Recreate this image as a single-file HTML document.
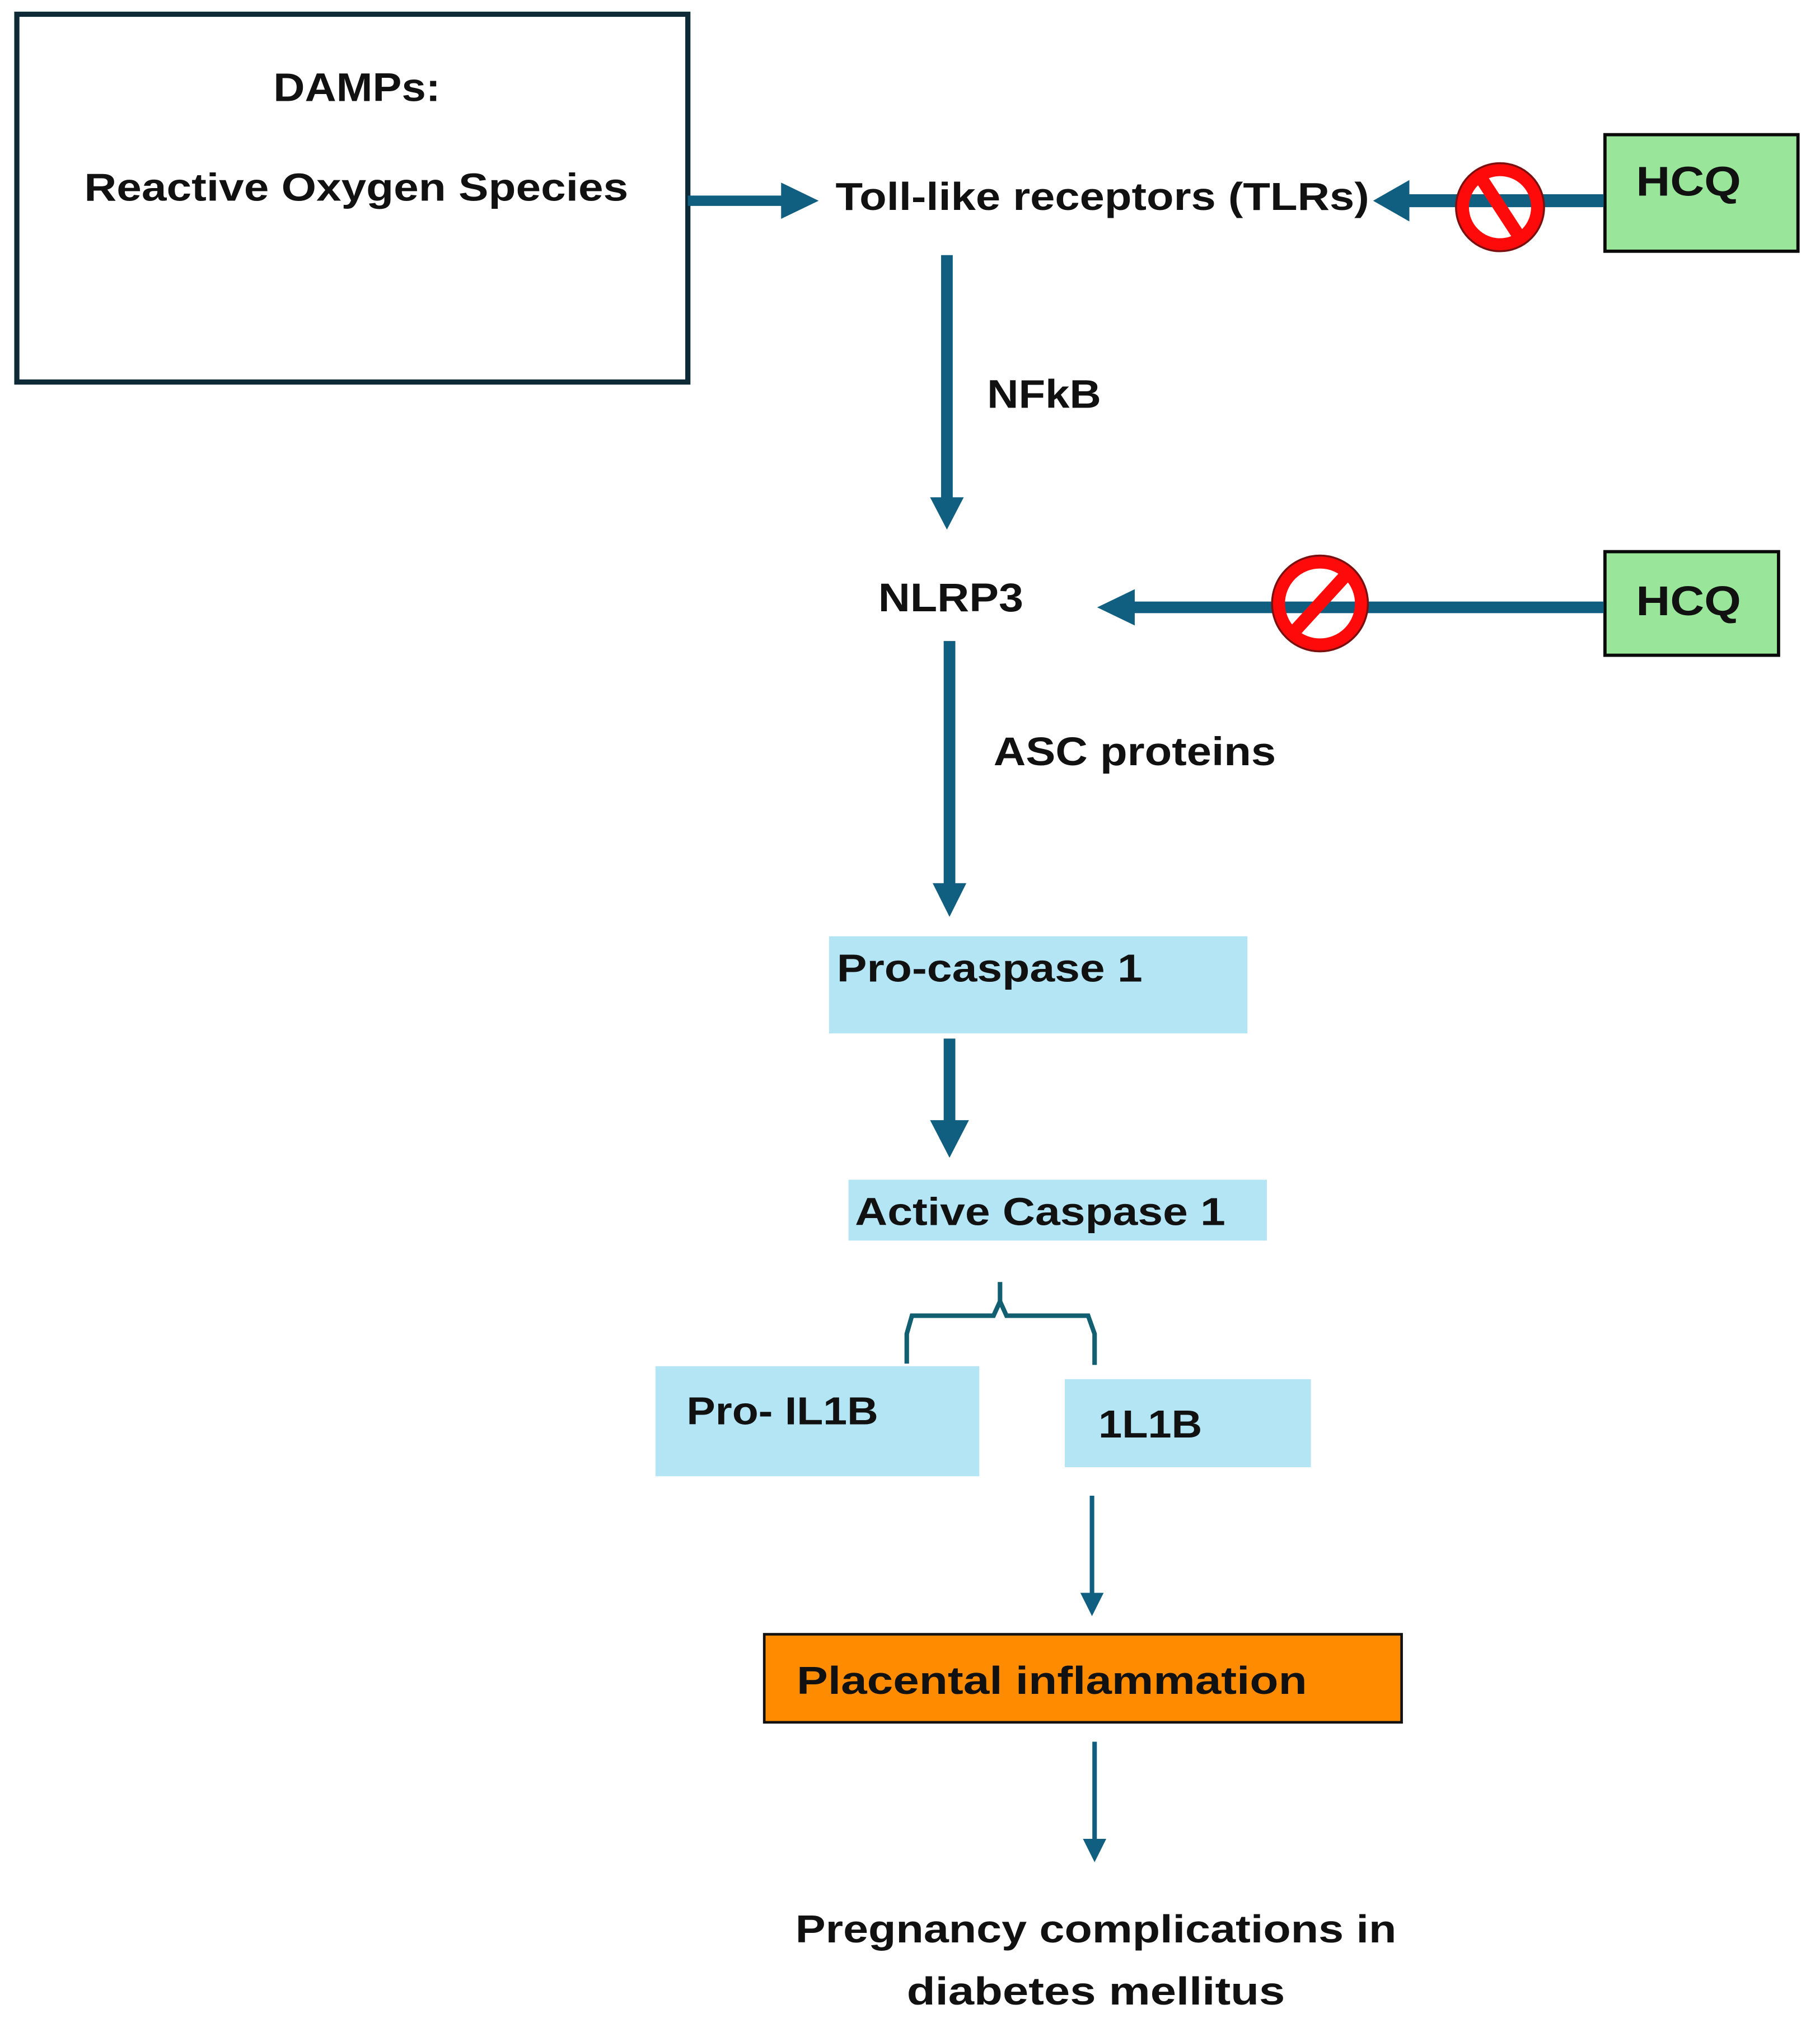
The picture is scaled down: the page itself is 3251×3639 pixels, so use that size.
<!DOCTYPE html>
<html><head><meta charset="utf-8"><style>
html,body{margin:0;padding:0;background:#fff;}
svg{display:block;}
text{font-family:"Liberation Sans",sans-serif;font-weight:bold;fill:#111;}
</style></head><body>
<svg width="3251" height="3639" viewBox="0 0 1405 1573" preserveAspectRatio="none" xmlns="http://www.w3.org/2000/svg">
<rect x="0" y="0" width="1405" height="1573" fill="#fff"/>
<rect x="13" y="11" width="518" height="284" fill="#fff" stroke="#0d2a36" stroke-width="4"/>
<text x="211" y="78" font-size="31" textLength="129" lengthAdjust="spacingAndGlyphs">DAMPs:</text>
<text x="275" y="155" font-size="30" text-anchor="middle" textLength="420" lengthAdjust="spacingAndGlyphs">Reactive Oxygen Species</text>
<line x1="531" y1="155" x2="605" y2="155" stroke="#115f80" stroke-width="8"/>
<polygon points="632,155 603,141 603,169" fill="#115f80"/>
<text x="645" y="162" font-size="30" textLength="412" lengthAdjust="spacingAndGlyphs">Toll-like receptors (TLRs)</text>
<rect x="1239" y="104" width="149" height="90" fill="#99e69a" stroke="#0a0a0a" stroke-width="2.5"/>
<text x="1263" y="151" font-size="32" textLength="81" lengthAdjust="spacingAndGlyphs">HCQ</text>
<line x1="1238" y1="155" x2="1085" y2="155" stroke="#115f80" stroke-width="10"/>
<polygon points="1060,155 1088,139 1088,171" fill="#115f80"/>
<circle cx="1158" cy="160" r="29" fill="none" stroke="#ff0a0a" stroke-width="10"/>
<circle cx="1158" cy="160" r="34" fill="none" stroke="#7a1010" stroke-width="1.5"/>
<line x1="1143" y1="137" x2="1173" y2="183" stroke="#ff0a0a" stroke-width="10"/>
<line x1="731" y1="197" x2="731" y2="388" stroke="#115f80" stroke-width="9"/>
<polygon points="731,409 718,384 744,384" fill="#115f80"/>
<text x="762" y="315" font-size="31" textLength="88" lengthAdjust="spacingAndGlyphs">NFkB</text>
<text x="678" y="472" font-size="31" textLength="112" lengthAdjust="spacingAndGlyphs">NLRP3</text>
<rect x="1239" y="426" width="134" height="80" fill="#99e69a" stroke="#0a0a0a" stroke-width="2.5"/>
<text x="1263" y="475" font-size="32" textLength="81" lengthAdjust="spacingAndGlyphs">HCQ</text>
<line x1="1238" y1="469" x2="872" y2="469" stroke="#115f80" stroke-width="9"/>
<polygon points="847,469 876,455 876,483" fill="#115f80"/>
<circle cx="1019" cy="466" r="32" fill="none" stroke="#ff0a0a" stroke-width="10"/>
<circle cx="1019" cy="466" r="37" fill="none" stroke="#7a1010" stroke-width="1.5"/>
<line x1="1040" y1="443" x2="998" y2="489" stroke="#ff0a0a" stroke-width="10"/>
<line x1="733" y1="495" x2="733" y2="688" stroke="#115f80" stroke-width="9"/>
<polygon points="733,708 720,682 746,682" fill="#115f80"/>
<text x="767" y="591" font-size="31" textLength="218" lengthAdjust="spacingAndGlyphs">ASC proteins</text>
<rect x="640" y="723" width="323" height="75" fill="#b3e5f5"/>
<text x="646" y="758" font-size="30" textLength="236" lengthAdjust="spacingAndGlyphs">Pro-caspase 1</text>
<line x1="733" y1="802" x2="733" y2="868" stroke="#115f80" stroke-width="9"/>
<polygon points="733,894 718,865 748,865" fill="#115f80"/>
<rect x="655" y="911" width="323" height="47" fill="#b3e5f5"/>
<text x="660" y="946" font-size="30" textLength="286" lengthAdjust="spacingAndGlyphs">Active Caspase 1</text>
<path d="M772,990 L772,1005 L767,1016 L704,1016 L700,1030 L700,1053" fill="none" stroke="#115f70" stroke-width="3.5"/>
<path d="M772,1005 L777,1016 L840,1016 L845,1030 L845,1054" fill="none" stroke="#115f70" stroke-width="3.5"/>
<rect x="506" y="1055" width="250" height="85" fill="#b3e5f5"/>
<text x="530" y="1100" font-size="30" textLength="148" lengthAdjust="spacingAndGlyphs">Pro- IL1B</text>
<rect x="822" y="1065" width="190" height="68" fill="#b3e5f5"/>
<text x="848" y="1110" font-size="30" textLength="80" lengthAdjust="spacingAndGlyphs">1L1B</text>
<line x1="843" y1="1155" x2="843" y2="1235" stroke="#115f80" stroke-width="3.5"/>
<polygon points="843,1248 834,1230 852,1230" fill="#115f80"/>
<rect x="590" y="1262" width="492" height="68" fill="#ff8c00" stroke="#111" stroke-width="2"/>
<text x="615" y="1308" font-size="30" textLength="394" lengthAdjust="spacingAndGlyphs">Placental inflammation</text>
<line x1="845" y1="1345" x2="845" y2="1425" stroke="#115f80" stroke-width="3.5"/>
<polygon points="845,1438 836,1420 854,1420" fill="#115f80"/>
<text x="846" y="1500" font-size="30" text-anchor="middle" textLength="464" lengthAdjust="spacingAndGlyphs">Pregnancy complications in</text>
<text x="846" y="1548" font-size="30" text-anchor="middle" textLength="292" lengthAdjust="spacingAndGlyphs">diabetes mellitus</text>
</svg>
</body></html>
